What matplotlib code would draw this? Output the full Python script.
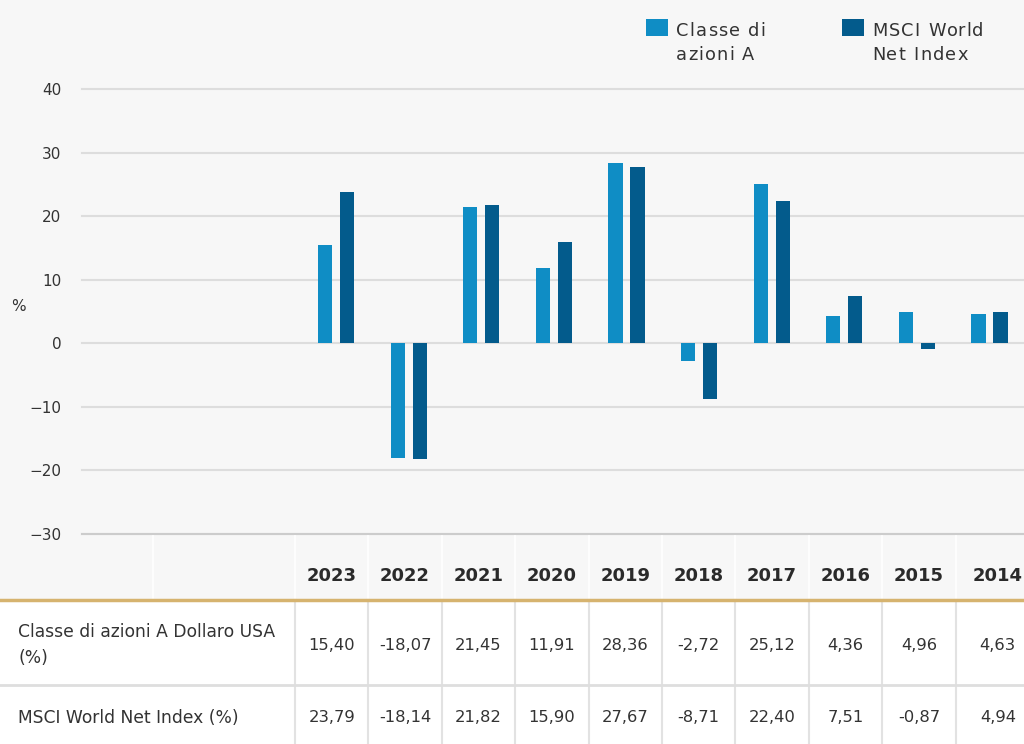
import matplotlib
matplotlib.use("Agg")
import matplotlib.pyplot as plt
from matplotlib.patches import Rectangle
from matplotlib.lines import Line2D
from matplotlib.textpath import TextPath
from matplotlib.font_manager import FontProperties

years = ["2023", "2022", "2021", "2020", "2019", "2018", "2017", "2016", "2015", "2014"]
classe_a = [15.40, -18.07, 21.45, 11.91, 28.36, -2.72, 25.12, 4.36, 4.96, 4.63]
msci = [23.79, -18.14, 21.82, 15.90, 27.67, -8.71, 22.40, 7.51, -0.87, 4.94]
series_names = ["Classe di\nazioni A", "MSCI World\nNet Index"]
row_labels = ["Classe di azioni A Dollaro USA\n(%)", "MSCI World Net Index (%)"]
yticks = [-30, -20, -10, 0, 10, 20, 30, 40]
n_empty = 3

C_LIGHT = "#0f8dc5"
C_DARK = "#035b8c"
BG = "#f7f7f7"
TXT = "#333333"
TABLE_FONT = "DejaVu Sans"

plt.rcParams["font.family"] = ["DejaVu Sans"]

W, H = 1024, 744
fig = plt.figure(figsize=(W / 100, H / 100), dpi=100, facecolor=BG)


def fx(x):
    return x / W


def fy(y):
    return 1 - y / H


# ---- chart axes ----
slot = 72.6
nslots = n_empty + len(years)
ax = fig.add_axes([fx(82), fy(534), nslots * slot / W, (534 - 89) / H])
ax.set_facecolor(BG)
xs = [n_empty + i for i in range(len(years))]
bw = 0.195
off = 0.152
ax.bar([x - off for x in xs], classe_a, width=bw, color=C_LIGHT, zorder=3)
ax.bar([x + off for x in xs], msci, width=bw, color=C_DARK, zorder=3)
ax.set_xlim(-0.5, nslots - 0.5)
ax.set_ylim(-30, 40)
ax.set_yticks(yticks)
ax.yaxis.grid(True, color="#dddddd", linewidth=1.5, zorder=0)
for gl in ax.get_ygridlines():
    gl.set_clip_on(False)
ax.set_axisbelow(True)
ax.set_xticks([])
for s in ["top", "right", "left"]:
    ax.spines[s].set_visible(False)
ax.spines["bottom"].set_color("#cccccc")
ax.spines["bottom"].set_linewidth(1.5)
ax.tick_params(axis="y", length=0, pad=15, labelsize=11, labelcolor=TXT)
fig.text(fx(18), fy(306), "%", fontsize=11, color=TXT, ha="center", va="center")


# ---- legend (letter-spaced text) ----
def spaced_text(x_px, y_px, text, size, spacing_px, color, line_px):
    fp = FontProperties(family="DejaVu Sans", size=size)
    scale = 100 / 72  # points -> px at 100 dpi
    wbar = TextPath((0, 0), "|", prop=fp).get_extents().x1
    for li, line in enumerate(text.split("\n")):
        for i, ch in enumerate(line):
            if i > 0:
                wpre = TextPath((0, 0), line[:i] + "|", prop=fp).get_extents().x1
                adv = (wpre - wbar) * scale
            else:
                adv = 0
            fig.text(fx(x_px + adv + i * spacing_px), fy(y_px + li * line_px), ch,
                     color=color, ha="left", va="baseline", fontproperties=fp)


leg = [(646, C_LIGHT, series_names[0]), (842, C_DARK, series_names[1])]
for x0, c, name in leg:
    fig.patches.append(Rectangle((fx(x0), fy(36)), 22 / W, 17 / H, transform=fig.transFigure,
                                 facecolor=c, edgecolor="none"))
    spaced_text(x0 + 30, 36.5, name, 12.8, 1.2, TXT, 24)

# ---- table ----
col_left = 295
col_w = 73.4
col_edges = [col_left + i * col_w for i in range(len(years))] + [1040]
col_centers = [(col_edges[i] + col_edges[i + 1]) / 2 for i in range(len(years))]

fig.patches.append(Rectangle((0, 0), 1, fy(600), transform=fig.transFigure,
                             facecolor="white", edgecolor="none", zorder=1))
for x in [153] + col_edges[:-1]:
    fig.add_artist(Line2D([fx(x), fx(x)], [fy(536), fy(600)], color="white", lw=1.2, zorder=2))
for x in col_edges[:-1]:
    fig.add_artist(Line2D([fx(x), fx(x)], [fy(600), 0], color="#e2e2e2", lw=1.5, zorder=2))
fig.add_artist(Line2D([0, 1], [fy(685), fy(685)], color="#dedede", lw=2, zorder=2))
fig.add_artist(Line2D([0, 1], [fy(600), fy(600)], color="#d6b36f", lw=2.5, zorder=3))

for yr, cx in zip(years, col_centers):
    fig.text(fx(cx), fy(576), yr, fontsize=13, fontweight="bold", color="#2a2a2a",
             ha="center", va="center", zorder=4, family=TABLE_FONT)


def fmt(v):
    return f"{v:.2f}".replace(".", ",")


fig.text(fx(18), fy(645), row_labels[0], fontsize=12.3, color=TXT, ha="left", va="center",
         linespacing=1.55, zorder=4, family=TABLE_FONT)
fig.text(fx(18), fy(718), row_labels[1], fontsize=12.3, color=TXT, ha="left", va="center",
         zorder=4, family=TABLE_FONT)
for vals, yc in [(classe_a, 645), (msci, 718)]:
    for v, cx in zip(vals, col_centers):
        fig.text(fx(cx), fy(yc), fmt(v), fontsize=11.8, color=TXT, ha="center", va="center",
                 zorder=4, family=TABLE_FONT)

fig.savefig("out.png", dpi=100, facecolor=BG)
